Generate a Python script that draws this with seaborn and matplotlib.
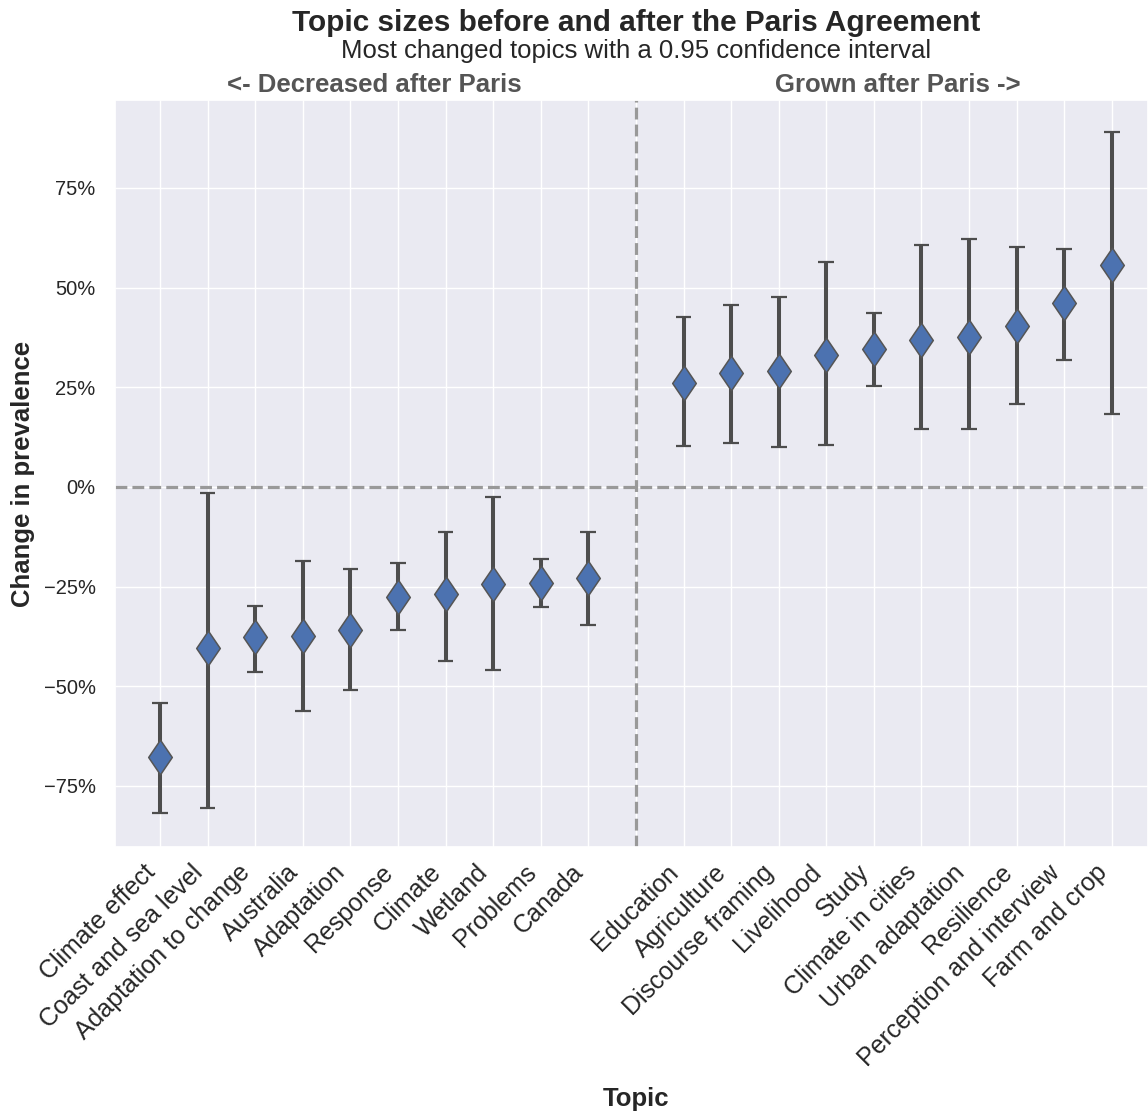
import pandas as pd
import matplotlib.pyplot as plt
import matplotlib.ticker as mticker
import matplotlib.transforms as mtransforms
from matplotlib.path import Path
import seaborn as sns

# Topics, left block shrank after Paris, right block grew
decreased = ['Climate effect', 'Coast and sea level', 'Adaptation to change', 'Australia',
             'Adaptation', 'Response', 'Climate', 'Wetland', 'Problems', 'Canada']
grown = ['Education', 'Agriculture', 'Discourse framing', 'Livelihood', 'Study',
         'Climate in cities', 'Urban adaptation', 'Resilience', 'Perception and interview',
         'Farm and crop']

# change in prevalence (%) and 0.95 CI bounds
dec_change = [-67.8, -40.5, -37.7, -37.5, -36.0, -27.7, -26.8, -24.3, -24.1, -22.8]
dec_low = [-81.8, -80.5, -46.3, -56.2, -51.0, -35.8, -43.7, -46.0, -30.2, -34.6]
dec_high = [-54.2, -1.4, -29.8, -18.6, -20.6, -19.1, -11.2, -2.6, -18.1, -11.2]

grown_change = [26.1, 28.6, 29.1, 33.2, 34.5, 36.8, 37.7, 40.4, 46.2, 55.6]
grown_low = [10.3, 11.1, 10.1, 10.6, 25.4, 14.6, 14.5, 20.8, 31.8, 18.3]
grown_high = [42.5, 45.6, 47.7, 56.4, 43.5, 60.6, 62.3, 60.2, 59.7, 88.9]

yticks = [-75, -50, -25, 0, 25, 50, 75]

topics = decreased + grown
change = dec_change + grown_change
low = dec_low + grown_low
high = dec_high + grown_high
order = decreased + [' '] + grown   # empty slot where the split line goes

# long table: median of (low, mid, high) = estimate, full range = CI
rows = []
for t, lo, m, hi in zip(topics, low, change, high):
    for v in (lo, m, hi):
        rows.append({'Topic': t, 'Change': v})
df = pd.DataFrame(rows)

sns.set_theme(style='darkgrid')
plt.rcParams['font.family'] = ['Liberation Sans', 'DejaVu Sans']

# a slim diamond, a bit wider than matplotlib's thin_diamond
diamond = Path([(0, 1), (0.68, 0), (0, -1), (-0.68, 0), (0, 1)],
               [Path.MOVETO, Path.LINETO, Path.LINETO, Path.LINETO, Path.CLOSEPOLY])

fig, ax = plt.subplots(figsize=(11.48, 11.13), dpi=100)
fig.subplots_adjust(left=0.1002, right=1.0, bottom=0.239, top=0.910)

# thin caps first, then the thick bars and the diamonds on top
sns.pointplot(data=df, x='Topic', y='Change', order=order,
              estimator='median', errorbar=('pi', 100),
              linestyles='none', markers='', color='#4d4d4d', capsize=0.33,
              err_kws={'color': '#4d4d4d', 'linewidth': 1.6, 'zorder': 2,
                       'solid_capstyle': 'butt'},
              markersize=0, zorder=2, ax=ax)
sns.pointplot(data=df, x='Topic', y='Change', order=order,
              estimator='median', errorbar=('pi', 100),
              linestyles='none', markers=diamond, color='#4c72b0', capsize=0,
              err_kws={'color': '#4d4d4d', 'linewidth': 2.9, 'zorder': 2.1,
                       'solid_capstyle': 'butt'},
              markersize=25, markeredgecolor='#555555', markeredgewidth=1.1,
              zorder=3, ax=ax)

ax.grid(True, axis='both')
ax.axhline(0, color='#999999', linestyle='--', linewidth=2.3, zorder=1.5)
ax.axvline(order.index(' '), color='#999999', linestyle='--', linewidth=2.3, zorder=1.5)

ax.set_xlim(-0.945, 20.76)
ax.set_ylim(-90.3, 97.0)
ax.set_yticks(yticks)
ax.yaxis.set_major_formatter(mticker.PercentFormatter(decimals=0))
ax.tick_params(axis='y', labelsize=14.5, pad=8)
ax.tick_params(axis='x', labelsize=18)
plt.setp(ax.get_xticklabels(), rotation=45, ha='right')

ax.set_xlabel('Topic', fontsize=18.5, fontweight='bold', color='#262626')
ax.xaxis.set_label_coords(0.504, -0.322)
ax.set_ylabel('Change in prevalence', fontsize=18.5, fontweight='bold', color='#262626')
ax.yaxis.set_label_coords(-0.077, 0.5)

trans = mtransforms.blended_transform_factory(ax.transData, fig.transFigure)
mid = order.index(' ')
ax.text(mid, 0.979, 'Topic sizes before and after the Paris Agreement', transform=trans,
        ha='center', va='center', fontsize=21.4, fontweight='bold', color='#262626')
ax.text(mid, 0.954, 'Most changed topics with a 0.95 confidence interval', transform=trans,
        ha='center', va='center', fontsize=18.5, color='#262626')
ax.text(4.5, 0.9235, '<- Decreased after Paris', transform=trans,
        ha='center', va='center', fontsize=18.5, fontweight='bold', color='#555555')
ax.text(15.5, 0.9235, 'Grown after Paris ->', transform=trans,
        ha='center', va='center', fontsize=18.5, fontweight='bold', color='#555555')

plt.savefig('out.png', dpi=100)
